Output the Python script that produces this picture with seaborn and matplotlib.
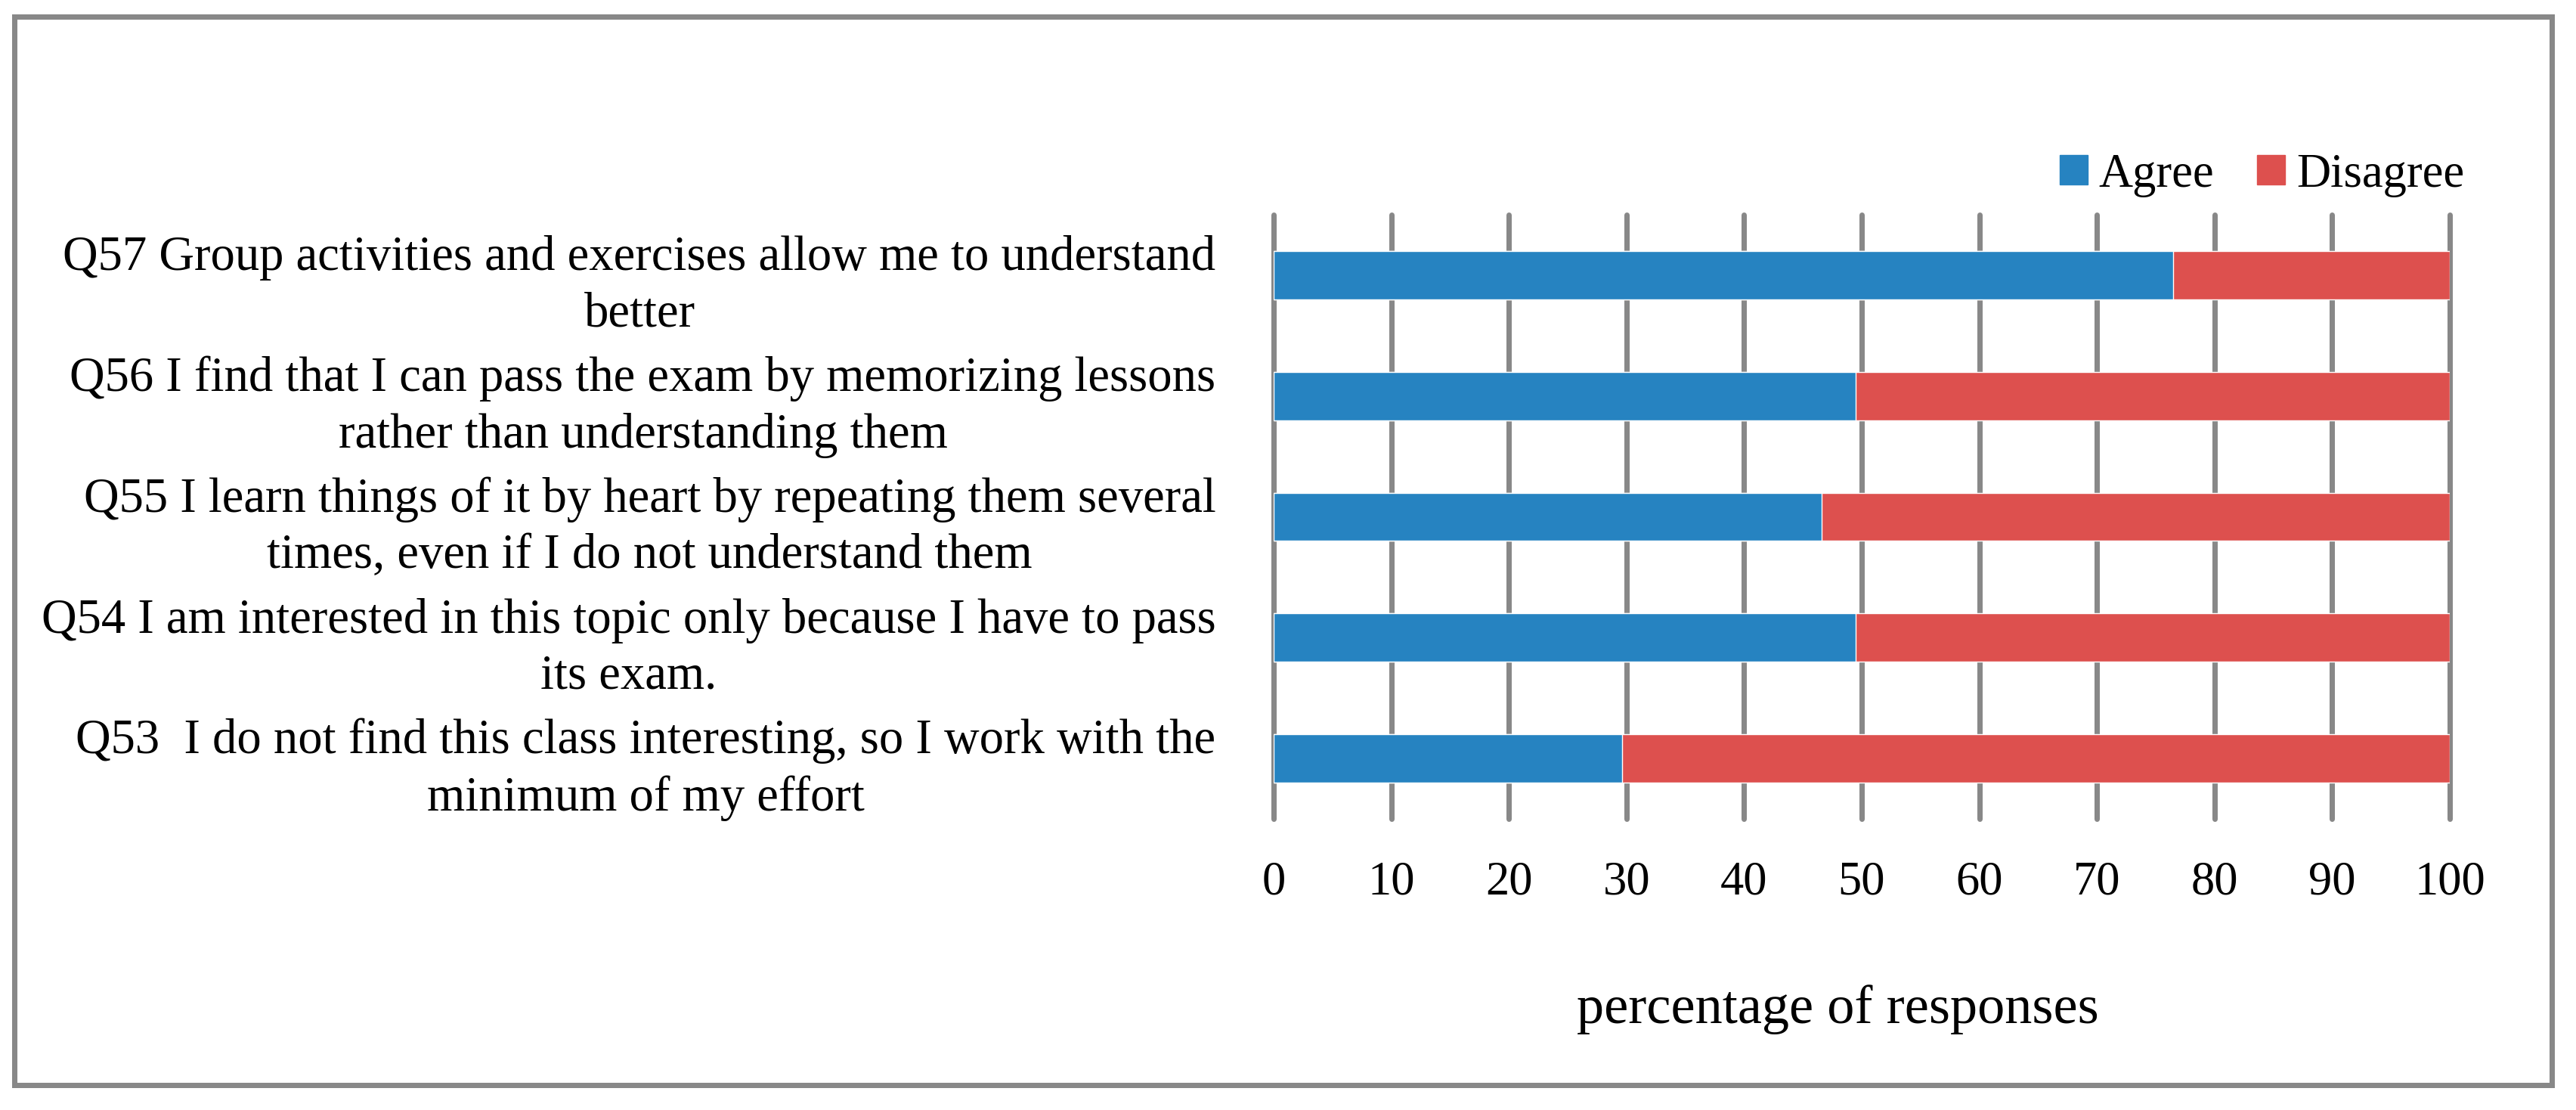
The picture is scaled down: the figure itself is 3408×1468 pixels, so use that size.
import matplotlib
matplotlib.use("Agg")
import matplotlib.pyplot as plt
import matplotlib.patches as mpatches
import numpy as np
import pandas as pd
import seaborn as sns

# ---- data ----
questions = [
    "Q57 Group activities and exercises allow me to understand\nbetter",
    "Q56 I find that I can pass the exam by memorizing lessons\nrather than understanding them",
    "Q55 I learn things of it by heart by repeating them several\ntimes, even if I do not understand them",
    "Q54 I am interested in this topic only because I have to pass\nits exam.",
    "Q53  I do not find this class interesting, so I work with the\nminimum of my effort",
]
agree = [76.5, 49.5, 46.6, 49.5, 29.6]
disagree = [23.5, 50.5, 53.4, 50.5, 70.4]
series_names = ["Agree", "Disagree"]
x_ticks = [0, 10, 20, 30, 40, 50, 60, 70, 80, 90, 100]
x_label = "percentage of responses"

blue = "#2683C1"
red = "#DD504E"
grid_gray = "#888888"

sns.set_theme(style="white")
plt.rcParams["font.family"] = ["Liberation Serif", "DejaVu Serif"]
plt.rcParams["text.color"] = "black"
plt.rcParams["axes.labelcolor"] = "black"
plt.rcParams["xtick.color"] = "black"
plt.rcParams["ytick.color"] = "black"

df = pd.DataFrame({"question": questions, "Agree": agree, "Disagree": disagree})
df["total"] = df["Agree"] + df["Disagree"]

fig = plt.figure(figsize=(34.08, 14.68), dpi=100)
ax = fig.add_axes([0.49442, 0.26226, 0.45657, 0.54428])

sns.barplot(data=df, x="total", y="question", color=red, width=0.4,
            saturation=1, ax=ax, orient="h", zorder=3)
sns.barplot(data=df, x="Agree", y="question", color=blue, width=0.4,
            saturation=1, ax=ax, orient="h", zorder=3)

ax.set_xlim(0, 100)
ax.set_ylim(4.5, -0.5)
ax.set_xticks(x_ticks)
ax.set_xticklabels([str(t) for t in x_ticks], fontsize=45, color="black")
ax.set_ylabel("")
ax.set_yticks(range(len(questions)))
ax.set_yticklabels(questions, fontsize=46.5, color="black")
for t in ax.get_yticklabels():
    t.set_multialignment("center")
    t.set_linespacing(1.32)
ax.tick_params(axis="y", length=0, pad=55)
ax.tick_params(axis="x", length=0, pad=40)

ax.grid(axis="x", color=grid_gray, lw=5.04)
ax.grid(axis="y", visible=False)
ax.set_axisbelow(True)
for ln in ax.get_xgridlines():
    ln.set_clip_on(False)
for s in ax.spines.values():
    s.set_visible(False)

ax.set_xlabel(x_label, fontsize=52, color="black")
ax.xaxis.label.set_va("baseline")
ax.xaxis.set_label_coords(0.4798, -0.338)

handles = [mpatches.Patch(color=blue), mpatches.Patch(color=red)]
leg = fig.legend(handles, series_names, loc="center", bbox_to_anchor=(0.8781, 0.8423),
                 ncol=2, frameon=False, fontsize=45, handlelength=0.59, handleheight=0.59,
                 handletextpad=0.24, columnspacing=0.91, borderpad=0, borderaxespad=0)
for t in leg.get_texts():
    t.set_color("black")

frame = mpatches.Rectangle((0.00572, 0.02282), 0.98475, 0.96253, transform=fig.transFigure,
                           fill=False, ec=grid_gray, lw=5.04)
fig.patches.append(frame)

fig.savefig("out.png", dpi=100)
